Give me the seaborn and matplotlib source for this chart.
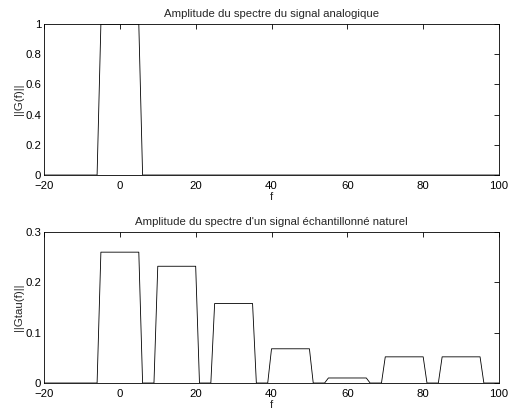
import numpy as np
import pandas as pd
import matplotlib
matplotlib.use('Agg')
import matplotlib.pyplot as plt
import seaborn as sns
from matplotlib.ticker import FormatStrFormatter

sns.set_style('white')
plt.rcParams['font.family'] = ['Liberation Sans', 'DejaVu Sans']
FS = 8.2

# ========================================
# Données
# ========================================
# spectre du signal analogique
f_analog = [-20, -6, -5, 5, 6, 100]
g_analog = [0, 0, 1, 1, 0, 0]

# spectre du signal échantillonné (naturel)
f_sampled = [-20, -6, -5, 5, 6, 9, 10, 20, 21, 24, 25, 35, 36, 39, 40, 50, 51,
             54, 55, 65, 66, 69, 70, 80, 81, 84, 85, 95, 96, 100]
g_sampled = [0, 0, 0.26, 0.26, 0, 0, 0.232, 0.232, 0, 0, 0.158, 0.158, 0, 0,
             0.068, 0.068, 0, 0, 0.01, 0.01, 0, 0, 0.052, 0.052, 0, 0,
             0.052, 0.052, 0, 0]

top_yticks = [0, 0.2, 0.4, 0.6, 0.8, 1]
bot_yticks = [0, 0.1, 0.2, 0.3]
x_ticks = [-20, 0, 20, 40, 60, 80, 100]

df_a = pd.DataFrame({'f': f_analog, 'g': g_analog})
df_s = pd.DataFrame({'f': f_sampled, 'g': g_sampled})

fig = plt.figure(figsize=(5.19, 4.18), dpi=100)
ax1 = fig.add_axes([0.0848, 0.5813, 0.8767, 0.3612])
ax2 = fig.add_axes([0.0848, 0.0837, 0.8767, 0.3612])


def style_axes(ax, yticks, ylim):
    ax.set_xlim(-20, 100)
    ax.set_ylim(*ylim)
    ax.set_xticks(x_ticks)
    ax.set_yticks(yticks)
    ax.yaxis.set_major_formatter(FormatStrFormatter('%g'))
    ax.tick_params(direction='in', length=3.5, width=0.6, top=True, right=True,
                   labelsize=FS, colors='black')
    ax.tick_params(axis='x', pad=4)
    ax.tick_params(axis='y', pad=2)
    for sp in ax.spines.values():
        sp.set_color('black')
        sp.set_linewidth(0.6)
    ax.set_xlabel('f', fontsize=FS, labelpad=1)


sns.lineplot(data=df_a, x='f', y='g', ax=ax1, color='black', linewidth=0.6, sort=False)
style_axes(ax1, top_yticks, (0, 1))
ax1.set_ylabel('||G(f)||', fontsize=FS, labelpad=1)
ax1.set_title('Amplitude du spectre du signal analogique', fontsize=FS, pad=5)

sns.lineplot(data=df_s, x='f', y='g', ax=ax2, color='black', linewidth=0.6, sort=False)
style_axes(ax2, bot_yticks, (0, 0.3))
ax2.set_ylabel('||Gtau(f)||', fontsize=FS, labelpad=1)
ax2.set_title("Amplitude du spectre d'un signal échantillonné naturel", fontsize=FS, pad=5)

plt.savefig('out.png', dpi=100)
plt.close()
